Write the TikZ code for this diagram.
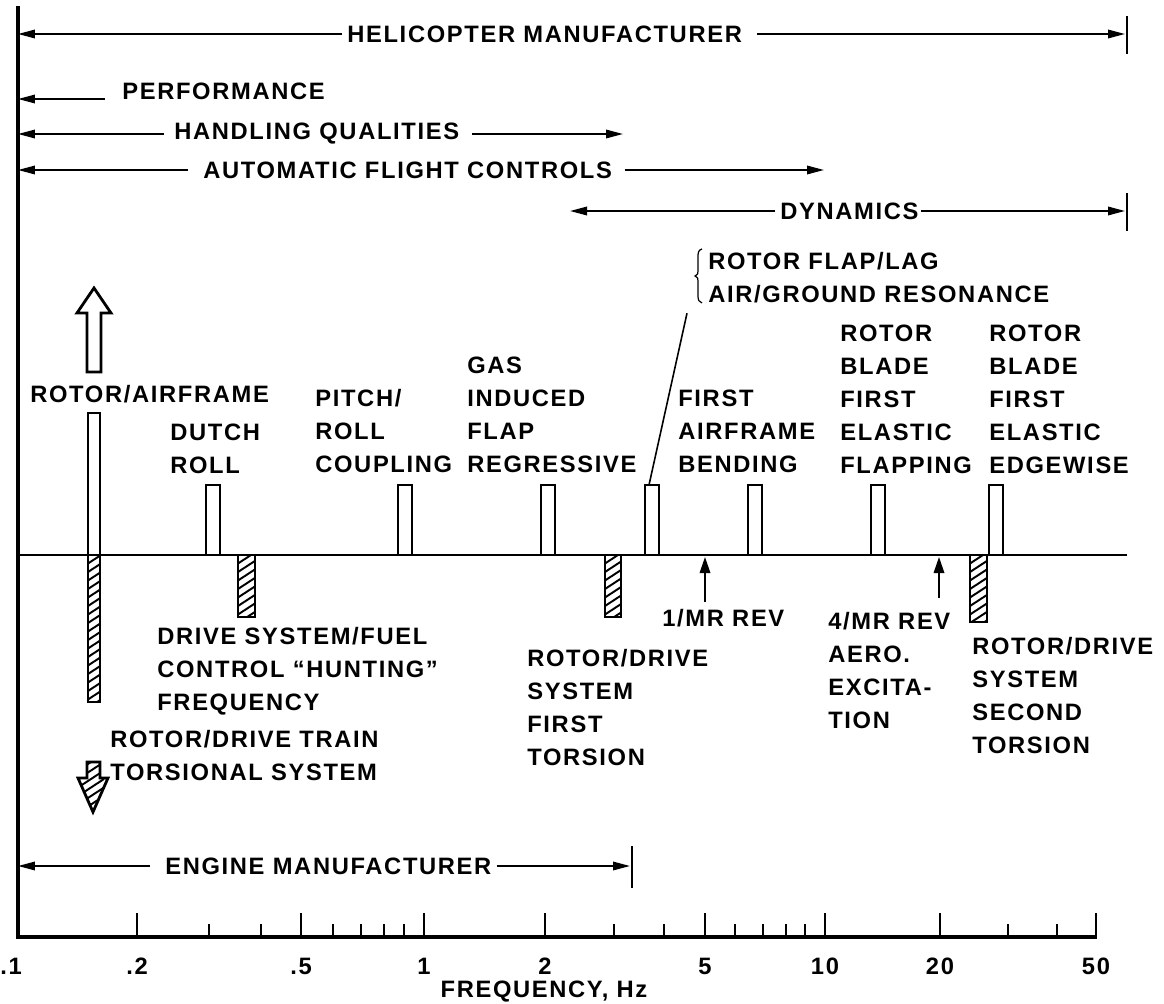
\documentclass[tikz,border=0pt]{standalone}
\usepackage{fontspec}
\setmainfont{Liberation Sans}
\newfontfamily\chartfont[LetterSpace=7]{Liberation Sans}
\usetikzlibrary{arrows.meta}

\tikzset{
  lbl/.style={font=\chartfont\bfseries\fontsize{13.5}{18.7}\selectfont, align=left, inner sep=0pt},
  rng/.style={->, line width=1pt},
  revarrow/.style={-{Triangle[length=3.2mm, width=2.1mm]}, line width=1pt},
  openbar/.style={draw, fill=white, line width=1.6pt},
  hatchbar/.style={draw, fill=white, line width=1.6pt, path picture={
      \foreach \k in {-3,...,22}
        \draw[line width=1.1pt] (path picture bounding box.north west) ++(0,\k*8.5) -- ++(26,-17);
    }},
}

\begin{document}
\begin{tikzpicture}[x=0.02cm, y=-0.02cm, >={Triangle[length=3.4mm, width=1.7mm]}]

\useasboundingbox (0,0) rectangle (1164,1004);

% Axes
\coordinate (axtop) at (18,6);
\coordinate (axorig) at (18,937);
\coordinate (axend) at (1097,937);
\draw[line width=1.8pt] (axtop) -- (axorig) -- (axend);

% Ticks on the frequency axis
\foreach \x/\len in {137/24, 209/13, 261/13, 301/24, 333/13, 361/13, 384/13, 404/13, 424/24,
                     545/24, 614/13, 664/13, 705/24, 735/13, 763/13, 786/13, 805/13, 825/24,
                     940/24, 1008/13, 1057/13, 1096/24}
  \draw[line width=0.9pt] (\x,937) -- ++(0,-\len);

\foreach \x/\t in {11/.1, 137/.2, 301/.5, 424/1, 545/2, 705/5, 825/10, 940/20, 1096/50}
  \node[lbl] (tk\x) at (\x,966) {\t};
\node[lbl] (freq) at (544,992) {FREQUENCY, Hz};

% =========== Top: responsibility ranges ===========
\node[lbl, anchor=west] (heli) at (347,34) {HELICOPTER MANUFACTURER};
\coordinate (heliend) at (1125,34);
\draw[rng] ([xshift=-1mm]heli.west) -- (heli.west -| axtop);
\draw[rng] ([xshift=3mm]heli.east) -- (heliend);
\draw[line width=0.9pt] (1127,16) -- (1127,54);

\node[lbl, anchor=west] (perf) at (122,91) {PERFORMANCE};
\coordinate (perfarrow) at (105,99);
\draw[rng] (perfarrow) -- (perfarrow -| axtop);

\node[lbl, anchor=west] (hq) at (174,134) {HANDLING QUALITIES};
\coordinate (hqend) at (623,134);
\draw[rng] ([xshift=-2mm]hq.west) -- (hq.west -| axtop);
\draw[rng] ([xshift=2.5mm]hq.east) -- (hqend);

\node[lbl, anchor=west] (afc) at (203,170) {AUTOMATIC FLIGHT CONTROLS};
\coordinate (afcend) at (824,170);
\draw[rng] ([xshift=-3mm]afc.west) -- (afc.west -| axtop);
\draw[rng] ([xshift=2.5mm]afc.east) -- (afcend);

\node[lbl, anchor=west] (dyn) at (780,211) {DYNAMICS};
\coordinate (dynstart) at (570,211);
\coordinate (dynend) at (1125,211);
\draw[rng] ([xshift=-1mm]dyn.west) -- (dynstart);
\draw[rng] ([xshift=0.5mm]dyn.east) -- (dynend);
\draw[line width=0.9pt] (1127,193) -- (1127,231);

% =========== Middle: modes along the frequency line ===========
\coordinate (lineleft) at (18,555);
\coordinate (lineright) at (1127,555);
\draw[line width=0.8pt] (lineleft) -- (lineright);

% Rotor/airframe (off the top) and rotor/drive train (off the bottom)
\draw[line width=1.6pt, fill=white] (87,372) -- (87,313) -- (77,313) -- (94,288) -- (111,313)
  -- (101,313) -- (101,372) -- cycle;
\draw[openbar] (88,413) rectangle (100,555);
\draw[hatchbar] (88,555) rectangle (100,702);
\draw[hatchbar] (87,762) -- (100,762) -- (100,778) -- (108,778) -- (93,812) -- (78,778)
  -- (87,778) -- cycle;

% Open bars above the line
\foreach \xa/\xb in {206/220, 398/412, 541/555, 645/659, 748/762, 871/885, 989/1003}
  \draw[openbar] (\xa,485) rectangle (\xb,555);

% Hatched bars below the line
\foreach \xa/\xb/\yb in {238/255/617, 605/621/617, 970/987/622}
  \draw[hatchbar] (\xa,555) rectangle (\xb,\yb);

% Labels above the line
\node[lbl, anchor=west] (rotair) at (30,394) {ROTOR/AIRFRAME};
\node[lbl, anchor=north west] (dutch) at (170,424) {DUTCH\\ROLL};
\node[lbl, anchor=north west] (pitch) at (315,389) {PITCH/\\ROLL\\COUPLING};
\node[lbl, anchor=north west] (gas) at (467,357) {GAS\\INDUCED\\FLAP\\REGRESSIVE};
\node[lbl, anchor=north west] (bend) at (678,390) {FIRST\\AIRFRAME\\BENDING};
\node[lbl, anchor=north west] (flapping) at (840,325) {ROTOR\\BLADE\\FIRST\\ELASTIC\\FLAPPING};
\node[lbl, anchor=north west] (edgewise) at (989,325) {ROTOR\\BLADE\\FIRST\\ELASTIC\\EDGEWISE};
\node[lbl, anchor=north west] (reso) at (708,252) {ROTOR FLAP/LAG\\AIR/GROUND RESONANCE};

% Brace and leader to the flap/lag bar
\draw[line width=0.7pt] (702,249) .. controls (698,250) and (698,253) .. (698,258) -- (698,271)
  .. controls (698,274) .. (695,276) .. controls (698,278) .. (698,281) -- (698,296)
  .. controls (698,300) and (699,302) .. (702,303);
\coordinate (flaplagtop) at (649,485);
\draw[line width=0.9pt] (flaplagtop) -- ([shift={(-21,10)}]reso.south west);

% Labels below the line
\node[lbl, anchor=north west] (hunting) at (157,627) {DRIVE SYSTEM/FUEL\\CONTROL “HUNTING”\\FREQUENCY};
\node[lbl, anchor=north west] (train) at (110,730) {ROTOR/DRIVE TRAIN\\TORSIONAL SYSTEM};
\node[lbl, anchor=north west] (tors1) at (527,649) {ROTOR/DRIVE\\SYSTEM\\FIRST\\TORSION};
\node[lbl, anchor=north west] (tors2) at (972,637) {ROTOR/DRIVE\\SYSTEM\\SECOND\\TORSION};

% Rotor excitation marks
\node[lbl, anchor=west] (onerev) at (662,618) {1/MR REV};
\coordinate (onemr) at (705,557);
\draw[revarrow] ([yshift=4pt]onerev.north -| onemr) -- (onemr);

\node[lbl, anchor=north west] (fourrev) at (828,612) {4/MR REV\\AERO.\\EXCITA-\\TION};
\coordinate (fourmr) at (939,557);
\draw[revarrow] ([yshift=8pt]fourrev.north -| fourmr) -- (fourmr);

% =========== Bottom: engine manufacturer ===========
\node[lbl, anchor=west] (engine) at (165,866) {ENGINE MANUFACTURER};
\coordinate (engend) at (630,866);
\draw[rng] ([xshift=-3mm]engine.west) -- (engine.west -| axtop);
\draw[rng] ([xshift=1mm]engine.east) -- (engend);
\draw[line width=0.9pt] (632,846) -- (632,888);

\end{tikzpicture}
\end{document}
